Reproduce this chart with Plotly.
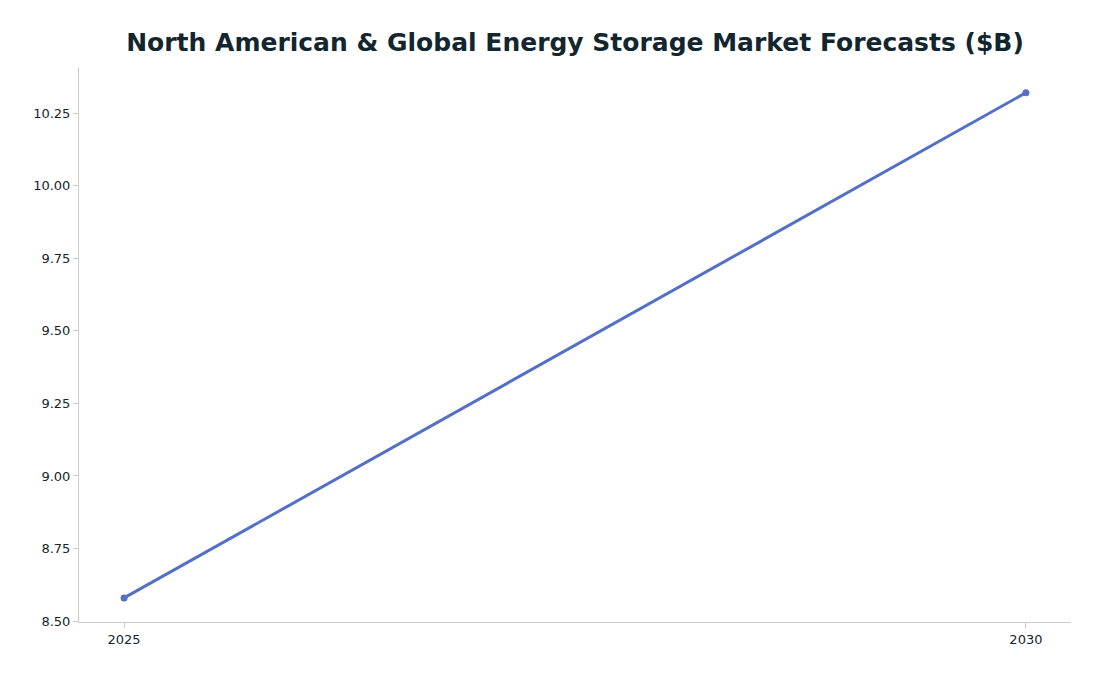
import plotly.graph_objects as go

years = [2025, 2030]
values = [8.58, 10.32]
ytick_vals = [8.5, 8.75, 9.0, 9.25, 9.5, 9.75, 10.0, 10.25]
ytick_text = ["8.50", "8.75", "9.00", "9.25", "9.50", "9.75", "10.00", "10.25"]

fig = go.Figure(go.Scatter(x=years, y=values, mode="lines+markers",
                           line=dict(color="#5470c6", width=3), marker=dict(size=7, color="#5470c6")))
fig.update_layout(
    width=1101, height=676,
    margin=dict(l=71, r=38, t=60, b=62),
    paper_bgcolor="white", plot_bgcolor="white",
    title=dict(text="<b>North American & Global Energy Storage Market Forecasts ($B)</b>",
               x=0.515, xanchor="center", y=0.95, yanchor="middle",
               font=dict(family="DejaVu Sans", size=25, color="#13262f")),
    showlegend=False,
    font=dict(family="DejaVu Sans", size=13, color="#13262f"),
)
fig.update_xaxes(range=[2024.75, 2030.25], tickvals=years, ticktext=[str(y) for y in years],
                 showgrid=False, zeroline=False, showline=True, linecolor="#cccccc",
                 ticks="outside", ticklen=5, tickcolor="#cccccc")
fig.update_yaxes(range=[8.497, 10.405], tickvals=ytick_vals, ticktext=ytick_text,
                 showgrid=False, zeroline=False, showline=True, linecolor="#cccccc",
                 ticks="outside", ticklen=5, tickcolor="#cccccc")
fig.write_html("out.html")
